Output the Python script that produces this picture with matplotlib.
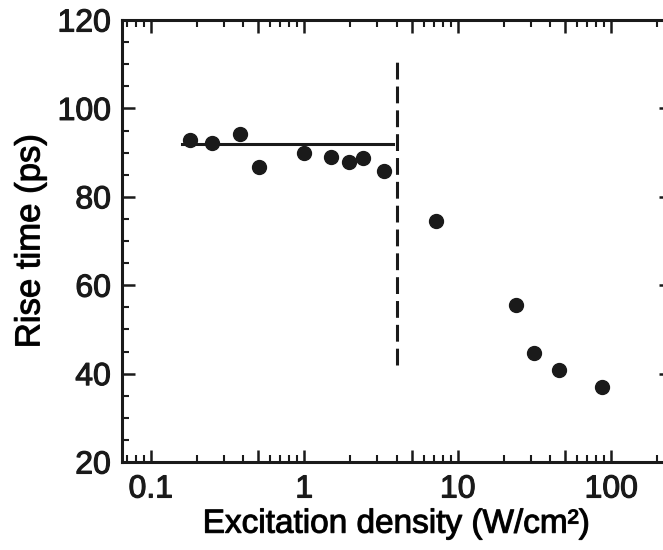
import matplotlib
matplotlib.use("Agg")
import matplotlib.pyplot as plt
import matplotlib.patheffects as pe
from matplotlib.ticker import FixedLocator, FixedFormatter, MultipleLocator

plt.rcParams['font.family'] = ['Liberation Sans', 'DejaVu Sans']

# measured points
density = [0.18, 0.25, 0.38, 0.51, 1.0, 1.49, 1.96, 2.4, 3.3, 7.2, 24, 31.5, 46, 86.5]
rise_time = [92.9, 92.1, 94.2, 86.7, 89.8, 88.9, 87.9, 88.7, 85.8, 74.5, 55.5, 44.7, 40.8, 37.0]

# constant level in the low density range
flat_x = [0.16, 3.8]
flat_y = [91.9, 91.9]

# threshold marker
threshold_x = 4.0
threshold_y = [42, 110.6]

xmajor = [0.1, 0.5, 1, 5, 10, 50, 100, 500]
xmajor_labels = ['0.1', '', '1', '', '10', '', '100', '']
xminor = [m * d for d in [0.01, 0.1, 1, 10, 100] for m in [2, 3, 4, 6, 7, 8, 9]]
yticks = [20, 40, 60, 80, 100, 120]

ink = '#1a1a1a'
# scanned text looks a bit heavier than plain Arial
heavy = [pe.withStroke(linewidth=0.8, foreground=ink)]

fig = plt.figure(figsize=(6.63, 5.5), dpi=100)
ax = fig.add_axes([0.184, 0.16, 0.828, 0.8036])

ax.plot(density, rise_time, 'o', color=ink, markersize=10, zorder=5)
ax.plot(flat_x, flat_y, '-', color=ink, linewidth=2.2)
ax.plot([threshold_x, threshold_x], threshold_y, color=ink, linewidth=2.2,
        dashes=(5.5, 2.3))

ax.set_xscale('log')
ax.set_xlim(0.065, 245)
ax.set_ylim(20, 120)

ax.xaxis.set_major_locator(FixedLocator(xmajor))
ax.xaxis.set_major_formatter(FixedFormatter(xmajor_labels))
ax.xaxis.set_minor_locator(FixedLocator(xminor))
ax.set_yticks(yticks)
ax.yaxis.set_minor_locator(MultipleLocator(5))

for s in ax.spines.values():
    s.set_linewidth(2.2)
    s.set_color(ink)

ax.tick_params(which='both', direction='in', top=True, right=True, colors=ink)
ax.tick_params(which='major', length=9, width=1.8, labelsize=23, pad=8)
ax.tick_params(which='minor', length=5, width=1.5)
ax.tick_params(axis='x', which='major', pad=9)

ax.set_xlabel('Excitation density (W/cm²)', fontsize=24, labelpad=3)
ax.set_ylabel('Rise time (ps)', fontsize=25, labelpad=8)

for t in ax.get_xticklabels() + ax.get_yticklabels() + [ax.xaxis.label, ax.yaxis.label]:
    t.set_path_effects(heavy)

fig.savefig('out.png', dpi=100)
